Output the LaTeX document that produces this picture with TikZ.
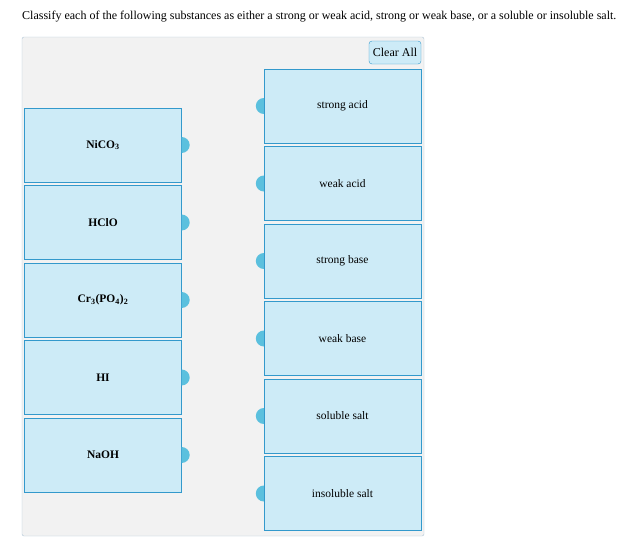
\documentclass[tikz,border=0pt]{standalone}
\usepackage{fontspec}
\setmainfont{Liberation Serif}
\definecolor{boxfill}{HTML}{CDEBF7}
\definecolor{boxline}{HTML}{3399CC}
\definecolor{knob}{HTML}{5BC0DE}
\definecolor{panel}{HTML}{F2F2F2}
\definecolor{panelline}{HTML}{AFC4D6}
\begin{document}
\begin{tikzpicture}[x=1pt, y=-1pt,
  card/.style={draw=boxline, fill=boxfill, minimum width=157pt, minimum height=74pt, inner sep=0pt, font=\fontsize{11.5}{13}\selectfont},
  knob/.style={fill=knob}]
  \useasboundingbox (0,0) rectangle (640,544);
  \node[anchor=west, inner sep=0pt, font=\fontsize{12}{14}\selectfont] (title) at (22,17) {Classify each of the following substances as either a strong or weak acid, strong or weak base, or a soluble or insoluble salt.};
  \draw[panelline, fill=panel, rounded corners=2pt] (22,37) rectangle (424,536);
  \node[draw=boxline, fill=boxfill, rounded corners=3pt, minimum width=52pt, minimum height=23pt, inner sep=0pt, font=\fontsize{12}{14}\selectfont] (clear) at (395,52.5) {Clear All};
  % substances
  \foreach \t [count=\i] in {\textbf{NiCO\textsubscript{3}}, \textbf{HClO}, \textbf{Cr\textsubscript{3}(PO\textsubscript{4})\textsubscript{2}}, \textbf{HI}, \textbf{NaOH}}{
    \node[card] (sub\i) at (103, 145+77.5*\i-77.5) {\t};
    \fill[knob] (sub\i.east) ++(0,-8) arc[start angle=-90, end angle=90, radius=8] -- cycle;
  }
  % categories
  \foreach \t [count=\i] in {strong acid, weak acid, strong base, weak base, soluble salt, insoluble salt}{
    \node[card] (cat\i) at (342.5, 106+77.5*\i-77.5) {\t};
    \fill[knob] (cat\i.west) ++(0,-8) arc[start angle=-90, end angle=-270, radius=8] -- cycle;
  }
\end{tikzpicture}
\end{document}
